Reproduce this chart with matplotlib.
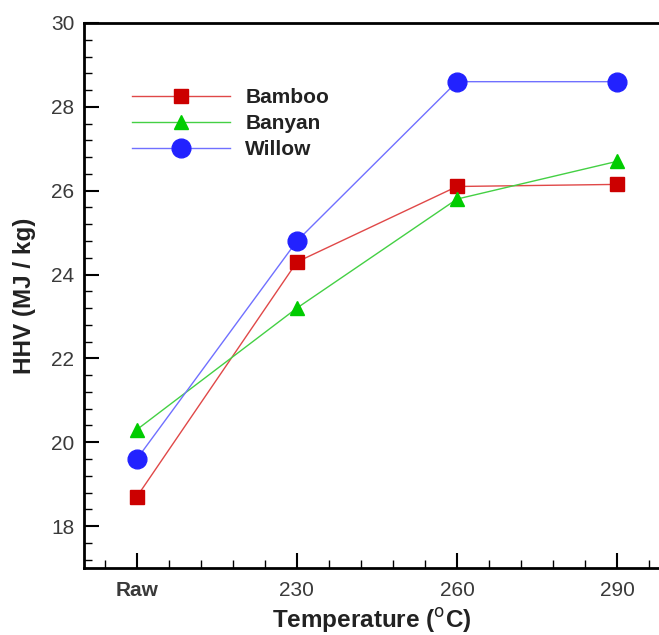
import matplotlib.pyplot as plt
from matplotlib.ticker import MultipleLocator
import numpy as np

plt.rcParams['font.family'] = ['Liberation Sans', 'DejaVu Sans']

# Data
temps = ['Raw', '230', '260', '290']
bamboo = [18.7, 24.3, 26.1, 26.15]
banyan = [20.3, 23.2, 25.8, 26.7]
willow = [19.6, 24.8, 28.6, 28.6]

x = np.arange(len(temps))

fig = plt.figure(figsize=(6.59, 6.35), dpi=100)
ax = fig.add_axes([0.1275, 0.1055, 0.8745, 0.8583])

ax.plot(x, bamboo, color='#e04848', lw=1.0, marker='s', ms=9.5,
        mfc='#cc0000', mec='#cc0000', label='Bamboo')
ax.plot(x, banyan, color='#44d044', lw=1.0, marker='^', ms=10.5,
        mfc='#00cc00', mec='#00cc00', label='Banyan')
ax.plot(x, willow, color='#7070ff', lw=1.0, marker='o', ms=13.5,
        mfc='#2222ff', mec='#2222ff', label='Willow')

ax.set_xlim(-0.33, 3.27)
ax.set_ylim(17, 30)
ax.set_xticks(x)
ax.set_xticklabels(temps)
raw_lbl = ax.get_xticklabels()[0]
raw_lbl.set_fontweight('bold')
raw_lbl.set_fontsize(16.5)
ax.xaxis.set_minor_locator(MultipleLocator(0.2))
ax.yaxis.set_major_locator(MultipleLocator(2))
ax.yaxis.set_minor_locator(MultipleLocator(0.4))

ax.tick_params(which='major', direction='in', length=11, width=1.5,
               labelsize=15, labelcolor='#3a3a3a', pad=9)
ax.tick_params(which='minor', direction='in', length=6, width=1.0)
ax.tick_params(axis='y', pad=7)

for side in ['left', 'bottom', 'top']:
    ax.spines[side].set_linewidth(2.0)
ax.spines['right'].set_visible(False)

ax.set_xlabel('Temperature ($^{\\rm o}$C)', fontsize=17.5, fontweight='bold',
              color='#222222', labelpad=4.5)
ax.set_ylabel('HHV (MJ / kg)', fontsize=17.5, fontweight='bold',
              color='#222222', labelpad=11)

leg = ax.legend(loc='upper left', bbox_to_anchor=(0.05, 0.915), frameon=False,
                prop={'size': 15, 'weight': 'bold'}, handlelength=4.7,
                labelspacing=0.33, handletextpad=0.75)
for t in leg.get_texts():
    t.set_color('#222222')

fig.savefig('out.png', dpi=100)
